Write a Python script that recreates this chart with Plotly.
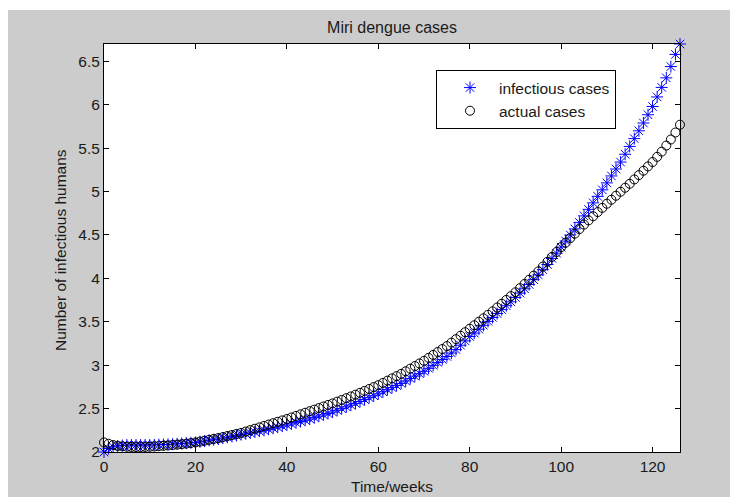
import plotly.graph_objects as go

weeks = list(range(127))

infectious_cases = [
    2.00, 2.04, 2.06, 2.07, 2.075, 2.08, 2.08, 2.08, 2.08, 2.08,
    2.08, 2.082, 2.084, 2.086, 2.088, 2.09, 2.094, 2.098, 2.102, 2.106,
    2.11, 2.118, 2.126, 2.134, 2.142, 2.15, 2.16, 2.17, 2.18, 2.19,
    2.20, 2.21, 2.22, 2.23, 2.24, 2.25, 2.262, 2.274, 2.286, 2.298,
    2.31, 2.324, 2.338, 2.352, 2.366, 2.38, 2.396, 2.412, 2.428, 2.444,
    2.46, 2.48, 2.50, 2.52, 2.54, 2.56, 2.582, 2.604, 2.626, 2.648,
    2.67, 2.694, 2.718, 2.742, 2.766, 2.79, 2.818, 2.846, 2.874, 2.902,
    2.93, 2.964, 2.998, 3.032, 3.066, 3.10, 3.14, 3.18, 3.23, 3.28,
    3.33, 3.37, 3.415, 3.46, 3.505, 3.55, 3.595, 3.64, 3.685, 3.73,
    3.78, 3.83, 3.88, 3.93, 3.985, 4.04, 4.10, 4.16, 4.23, 4.29,
    4.36, 4.43, 4.50, 4.57, 4.645, 4.72, 4.795, 4.87, 4.945, 5.02,
    5.10, 5.18, 5.26, 5.34, 5.43, 5.52, 5.61, 5.70, 5.79, 5.885,
    5.98, 6.09, 6.20, 6.31, 6.44, 6.58, 6.70,
]

actual_cases = [
    2.11, 2.095, 2.08, 2.07, 2.065, 2.06, 2.058, 2.057, 2.057, 2.058,
    2.06, 2.063, 2.067, 2.071, 2.075, 2.08, 2.085, 2.09, 2.096, 2.103,
    2.11, 2.12, 2.13, 2.14, 2.15, 2.16, 2.172, 2.184, 2.196, 2.208,
    2.22, 2.236, 2.252, 2.268, 2.284, 2.30, 2.316, 2.332, 2.348, 2.364,
    2.38, 2.398, 2.416, 2.434, 2.452, 2.47, 2.488, 2.506, 2.524, 2.542,
    2.56, 2.58, 2.60, 2.62, 2.64, 2.66, 2.682, 2.704, 2.726, 2.748,
    2.77, 2.796, 2.822, 2.848, 2.874, 2.90, 2.93, 2.96, 2.99, 3.02,
    3.05, 3.084, 3.118, 3.152, 3.186, 3.22, 3.26, 3.30, 3.34, 3.38,
    3.42, 3.46, 3.50, 3.54, 3.58, 3.62, 3.664, 3.708, 3.752, 3.796,
    3.84, 3.888, 3.936, 3.984, 4.032, 4.08, 4.136, 4.192, 4.248, 4.304,
    4.36, 4.412, 4.464, 4.516, 4.568, 4.62, 4.668, 4.716, 4.764, 4.812,
    4.86, 4.906, 4.952, 4.998, 5.044, 5.09, 5.14, 5.19, 5.24, 5.29,
    5.34, 5.40, 5.46, 5.53, 5.60, 5.68, 5.77,
]

x_ticks = [0, 20, 40, 60, 80, 100, 120]
y_ticks = [2, 2.5, 3, 3.5, 4, 4.5, 5, 5.5, 6, 6.5]
y_tick_labels = ["2", "2.5", "3", "3.5", "4", "4.5", "5", "5.5", "6", "6.5"]

FONT = "Liberation Sans, Arial, sans-serif"
FS = 15.5
TXT = "#1a1a1a"

fig = go.Figure()
fig.add_trace(go.Scatter(
    x=weeks, y=infectious_cases, mode="markers", name="infectious cases",
    cliponaxis=False,
    marker=dict(symbol="asterisk-open", size=10, color="#0000ff",
                line=dict(color="#0000ff", width=1)),
))
fig.add_trace(go.Scatter(
    x=weeks, y=actual_cases, mode="markers", name="actual cases",
    cliponaxis=False,
    marker=dict(symbol="circle-open", size=9, color="#000000",
                line=dict(color="#000000", width=1)),
))

L, R, T, B = 104, 50, 44, 45
W, H = 730, 497
pw, ph = W - L - R, H - T - B

fig.update_layout(
    width=W, height=H,
    margin=dict(l=L, r=R, t=T, b=B, pad=0, autoexpand=False),
    paper_bgcolor="#cccccc",
    plot_bgcolor="#ffffff",
    font=dict(family=FONT, size=FS, color=TXT),
    title=dict(text="Miri dengue cases", x=(L + pw / 2) / W, xanchor="center",
               y=1 - 27 / H, yanchor="middle",
               font=dict(family=FONT, size=16, color=TXT)),
    showlegend=True,
    legend=dict(x=(436 - L) / pw, y=(H - B - 70) / ph, xanchor="left", yanchor="top",
                bgcolor="#ffffff", bordercolor="#000000", borderwidth=1,
                font=dict(family=FONT, size=FS, color=TXT),
                itemwidth=48, indentation=4, tracegroupgap=0),
    shapes=[
        dict(type="rect", xref="paper", yref="paper", layer="below",
             x0=-L / pw - 0.05, x1=(8 - L) / pw, y0=-B / ph - 0.05, y1=(H - B) / ph + 0.05,
             fillcolor="#ffffff", line=dict(width=0)),
        dict(type="rect", xref="paper", yref="paper", layer="below",
             x0=-L / pw - 0.05, x1=1 + R / pw + 0.05, y0=(H - B - 10) / ph, y1=(H - B) / ph + 0.05,
             fillcolor="#ffffff", line=dict(width=0)),
    ],
    annotations=[
        dict(text="Time/weeks", xref="paper", yref="paper",
             x=0.5, y=(H - B - 487) / ph, xanchor="center", yanchor="middle",
             showarrow=False, font=dict(family=FONT, size=FS, color=TXT)),
        dict(text="Number of infectious humans", xref="paper", yref="paper",
             x=(60 - L) / pw, y=(H - B - 250) / ph, xanchor="center", yanchor="middle",
             textangle=-90, showarrow=False, font=dict(family=FONT, size=FS, color=TXT)),
    ],
)

fig.update_xaxes(
    range=[0, 126], tickvals=x_ticks, ticktext=[str(v) for v in x_ticks],
    ticks="inside", ticklen=5, tickwidth=1, tickcolor="#000000",
    showline=True, linecolor="#000000", linewidth=1, mirror="ticks",
    showgrid=False, zeroline=False, automargin=False,
    tickfont=dict(family=FONT, size=FS, color=TXT),
)
fig.update_yaxes(
    range=[2, 6.7], tickvals=y_ticks, ticktext=y_tick_labels,
    ticks="inside", ticklen=5, tickwidth=1, tickcolor="#000000",
    showline=True, linecolor="#000000", linewidth=1, mirror="ticks",
    showgrid=False, zeroline=False, automargin=False,
    tickfont=dict(family=FONT, size=FS, color=TXT),
)

fig.write_html("out.html")
